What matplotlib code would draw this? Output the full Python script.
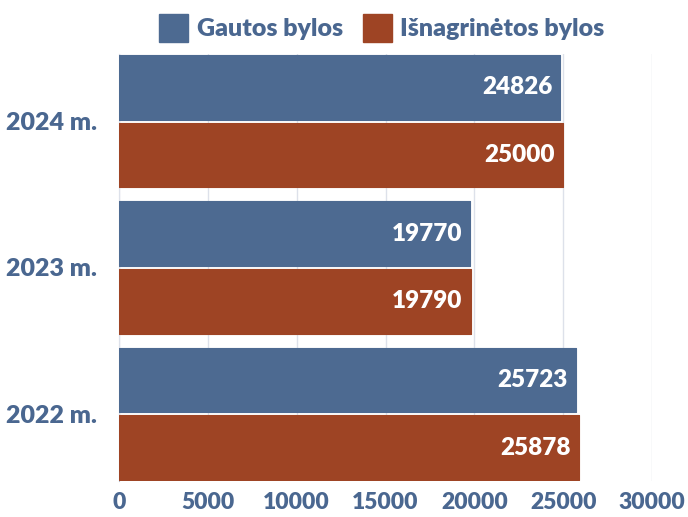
import numpy as np
import matplotlib.pyplot as plt
from matplotlib.patches import Patch

years = ['2022 m.', '2023 m.', '2024 m.']
received = [25723, 19770, 24826]   # Gautos bylos
examined = [25878, 19790, 25000]   # Išnagrinėtos bylos
xticks = [0, 5000, 10000, 15000, 20000, 25000, 30000]

blue = '#4d6a91'
rust = '#9e4424'
txt = '#4a6790'

plt.rcParams['font.family'] = ['Lato', 'DejaVu Sans']
plt.rcParams['font.weight'] = 'heavy'

fig = plt.figure(figsize=(6.88, 5.17), dpi=100)
ax = fig.add_axes([119 / 688, 1 - 481 / 517, 533 / 688, 427 / 517])

y = np.arange(len(years))
h = 0.44
gap = 0.012
b1 = ax.barh(y + gap + h / 2, received, height=h, color=blue, edgecolor=blue,
             linewidth=0.8, joinstyle='round', zorder=3)
b2 = ax.barh(y - gap - h / 2, examined, height=h, color=rust, edgecolor=rust,
             linewidth=0.8, joinstyle='round', zorder=3)

for bars, vals in ((b1, received), (b2, examined)):
    for bar, v in zip(bars, vals):
        ax.text(v - 450, bar.get_y() + bar.get_height() / 2, str(v),
                ha='right', va='center', color='white', fontsize=17.5,
                fontweight='heavy', zorder=4)

ax.set_xlim(0, 30000)
ax.set_ylim(-0.46, 2.46)
ax.set_xticks(xticks)
ax.set_xticklabels([str(t) for t in xticks])
ax.set_yticks(y)
ax.set_yticklabels(years)
ax.tick_params(axis='x', length=0, labelsize=16.5, labelcolor=txt, pad=8)
ax.tick_params(axis='y', length=0, labelsize=18, labelcolor=txt, pad=16)
ax.grid(axis='x', color='#dde1ea', linewidth=1, zorder=0)
for s in ['top', 'right', 'bottom']:
    ax.spines[s].set_visible(False)
ax.spines['left'].set_color('#b8bfcc')
ax.spines['left'].set_zorder(1)

handles = [Patch(color=blue, label='Gautos bylos'),
           Patch(color=rust, label='Išnagrinėtos bylos')]
leg = fig.legend(handles=handles, loc='center', bbox_to_anchor=(0.555, 1 - 28 / 517),
                 ncol=2, frameon=False, fontsize=18, handlelength=1.15,
                 handleheight=1.3, handletextpad=0.35, columnspacing=0.8)
for t in leg.get_texts():
    t.set_color(txt)

fig.savefig('out.png', dpi=100)
